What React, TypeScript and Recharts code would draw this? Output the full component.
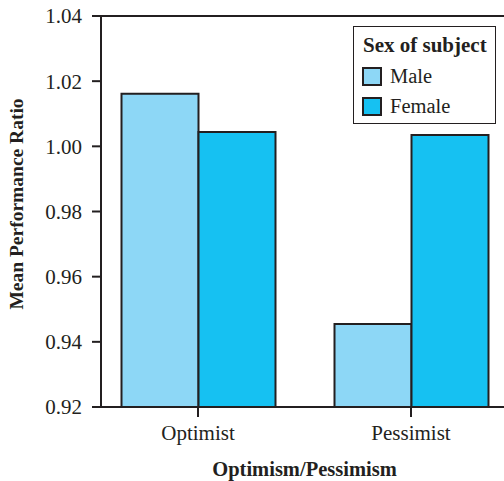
import { Bar, BarChart, ReferenceLine, XAxis, YAxis } from "recharts";

const categories = ["Optimist", "Pessimist"];
const maleValues = [1.0161, 0.9455];
const femaleValues = [1.0044, 1.0035];
const yTicks = [0.92, 0.94, 0.96, 0.98, 1.0, 1.02, 1.04];

const data = categories.map((c, i) => ({
  group: c,
  Male: maleValues[i],
  Female: femaleValues[i],
}));

const FONT = "Liberation Serif";
const INK = "#231f20";
const MALE = "#8dd7f6";
const FEMALE = "#16c1f2";

function LegendBox() {
  const swatch = (color: string, top: number) => (
    <span
      style={{
        position: "absolute",
        left: 8,
        top,
        width: 16,
        height: 15,
        background: color,
        border: `2px solid ${INK}`,
      }}
    />
  );
  const label = (text: string, top: number, bold = false) => (
    <span
      style={{
        position: "absolute",
        left: bold ? 9 : 36,
        top,
        fontSize: bold ? 21 : 20.5,
        fontWeight: bold ? "bold" : "normal",
        color: INK,
        lineHeight: "24px",
        whiteSpace: "nowrap",
      }}
    >
      {text}
    </span>
  );
  return (
    <div
      style={{
        position: "absolute",
        left: 353,
        top: 26,
        width: 143,
        height: 98,
        border: `1.5px solid ${INK}`,
        background: "#fff",
        boxSizing: "border-box",
      }}
    >
      {label("Sex of subject", 6, true)}
      {swatch(MALE, 40)}
      {label("Male", 37)}
      {swatch(FEMALE, 70)}
      {label("Female", 67)}
    </div>
  );
}

export default function App() {
  return (
    <>
      <style>{"html,body{margin:0;padding:0;overflow:hidden;background:#fff}"}</style>
      <div
        style={{
          position: "relative",
          width: 504,
          height: 481,
          overflow: "hidden",
          background: "#fff",
          fontFamily: FONT,
        }}
      >
        <BarChart
          width={504}
          height={481}
          data={data}
          margin={{ top: 16, right: 0, bottom: 14, left: 0 }}
          barGap={0}
          style={{ fontFamily: FONT }}
        >
          <XAxis
            dataKey="group"
            padding={{ left: -9.5, right: -13.5 }}
            tickSize={10}
            tickMargin={8}
            height={60}
            axisLine={{ stroke: INK, strokeWidth: 2 }}
            tickLine={{ stroke: INK, strokeWidth: 2 }}
            tick={{ fontSize: 21, fill: INK, fontFamily: FONT }}
          />
          <YAxis
            width={101}
            domain={[0.92, 1.04]}
            ticks={yTicks}
            allowDataOverflow
            tickFormatter={(v: number) => v.toFixed(2)}
            tickSize={9}
            tickMargin={10}
            axisLine={{ stroke: INK, strokeWidth: 2 }}
            tickLine={{ stroke: INK, strokeWidth: 2 }}
            tick={{ fontSize: 21, fill: INK, fontFamily: FONT }}
            label={{
              content: () => (
                <text
                  x={23}
                  y={204}
                  transform="rotate(-90 23 204)"
                  textAnchor="middle"
                  fontSize={19.5}
                  fontWeight="bold"
                  fill={INK}
                  fontFamily={FONT}
                >
                  Mean Performance Ratio
                </text>
              ),
            }}
          />
          <ReferenceLine y={1.04} stroke={INK} strokeWidth={2} />
          <Bar
            dataKey="Male"
            fill={MALE}
            stroke={INK}
            strokeWidth={2}
            barSize={77}
            isAnimationActive={false}
          />
          <Bar
            dataKey="Female"
            fill={FEMALE}
            stroke={INK}
            strokeWidth={2}
            barSize={77}
            isAnimationActive={false}
          />
        </BarChart>
        <div
          style={{
            position: "absolute",
            left: 304.5,
            top: 459,
            transform: "translateX(-50%)",
            fontSize: 20.5,
            lineHeight: "20px",
            fontWeight: "bold",
            color: INK,
            whiteSpace: "nowrap",
          }}
        >
          Optimism/Pessimism
        </div>
        <LegendBox />
      </div>
    </>
  );
}
